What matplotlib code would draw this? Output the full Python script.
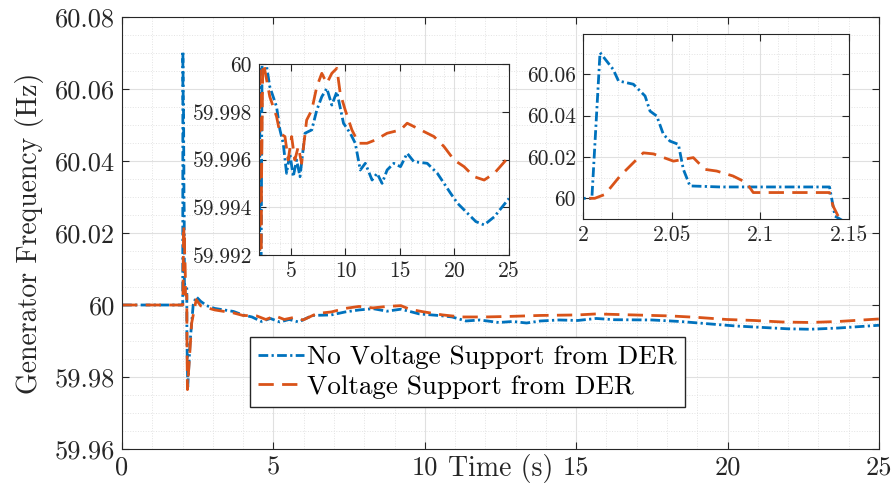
import numpy as np
import matplotlib
matplotlib.use('Agg')
import matplotlib.pyplot as plt
from matplotlib.ticker import MultipleLocator, FuncFormatter

t_no_vs = [0, 2.0, 2.005, 2.0096, 2.017, 2.020, 2.0284, 2.035, 2.0378, 2.0416, 2.0453, 2.049,
           2.0538, 2.0566, 2.0603, 2.0773, 2.139, 2.1421, 2.17, 2.25, 2.35, 2.45, 2.6, 2.8,
           3.06, 3.68, 3.99, 4.29, 4.6, 4.9, 5.21, 5.52, 5.83, 6.29, 6.91, 7.37, 7.83,
           8.29, 8.75, 9.21, 9.82, 10.44, 10.9, 11.36, 11.82, 12.44, 12.9, 13.36, 13.82,
           14.43, 15.05, 15.66, 16.27, 17.5, 18.43, 19.04, 19.65, 20.27, 21.19, 21.96,
           22.72, 23.65, 25.0]
f_no_vs = [60, 60, 60, 60.0705, 60.0624, 60.0568, 60.0552, 60.0495, 60.0422, 60.0398, 60.031,
           60.0277, 60.0261, 60.014, 60.006, 60.0055, 60.0055, 59.9914, 59.9772, 59.99, 60.0,
           60.0023, 60.001, 59.9998, 59.99905, 59.99821, 59.99724, 59.99668, 59.99542,
           59.99626, 59.99528, 59.99598, 59.99528, 59.9971, 59.99724, 59.99807, 59.99863,
           59.99898, 59.99828, 59.99884, 59.99752, 59.9971, 59.99668, 59.99556, 59.99584,
           59.99514, 59.99542, 59.995, 59.99556, 59.99584, 59.9957, 59.99626, 59.99591,
           59.99584, 59.99542, 59.995, 59.99458, 59.99417, 59.99375, 59.9934, 59.99326,
           59.9936, 59.99437]

t_vs = [0, 2.0, 2.0066, 2.0124, 2.0209, 2.0265, 2.034, 2.0397, 2.051, 2.0622, 2.0688, 2.0754,
        2.0846, 2.0921, 2.096, 2.139, 2.141, 2.1447, 2.16, 2.3, 2.45, 2.6, 3.06, 3.68,
        3.99, 4.45, 4.75, 5.06, 5.36, 5.67, 5.98, 6.44, 6.91, 7.37, 7.83, 8.29, 8.75,
        9.21, 9.52, 9.98, 10.59, 11.21, 11.98, 12.75, 13.82, 15.05, 15.66, 16.89, 18.12,
        19.04, 19.96, 20.88, 21.8, 22.72, 23.65, 25.0]
f_vs = [60, 60, 60, 60.0019, 60.0108, 60.0156, 60.022, 60.0215, 60.018, 60.0197, 60.014,
        60.0132, 60.0108, 60.0076, 60.0028, 60.0028, 59.9963, 59.99, 59.9765, 59.995,
        60.0015, 59.99975, 59.99863, 59.9978, 59.9971, 59.99696, 59.99598, 59.99696,
        59.99598, 59.99654, 59.99584, 59.99765, 59.99807, 59.99905, 59.99961, 59.99919,
        59.99961, 59.99982, 59.99877, 59.99807, 59.99724, 59.99668, 59.99668, 59.99682,
        59.9971, 59.99724, 59.99752, 59.99724, 59.99696, 59.99654, 59.99598, 59.9957,
        59.99528, 59.99514, 59.99542, 59.99612]

labels = ['No Voltage Support from DER', 'Voltage Support from DER']

plt.rcParams['font.family'] = 'serif'
plt.rcParams['font.serif'] = ['cmr10']
plt.rcParams['mathtext.fontset'] = 'cm'
plt.rcParams['axes.formatter.use_mathtext'] = True

BLUE = '#0072BD'
ORANGE = '#D95319'
AXC = '#262626'
fmt = FuncFormatter(lambda v, p: f'{v:g}')


def style_axes(ax, fs):
    ax.grid(True, which='major', color='#e0e0e0', lw=0.8)
    ax.grid(True, which='minor', color='#e3e3e3', lw=0.7, ls=':')
    ax.set_axisbelow(True)
    ax.tick_params(which='both', direction='in', top=True, right=True,
                   colors=AXC, labelsize=fs, length=5, width=0.8, pad=5)
    ax.tick_params(which='minor', length=0)
    for s in ax.spines.values():
        s.set_color(AXC)
        s.set_linewidth(0.8)
    ax.xaxis.set_major_formatter(fmt)
    ax.yaxis.set_major_formatter(fmt)


def draw(ax):
    ax.plot(t_no_vs, f_no_vs, color=BLUE, lw=2, ls=(0, (3.5, 1.2, 0.8, 1.2)))
    ax.plot(t_vs, f_vs, color=ORANGE, lw=2, ls=(0, (5.5, 3)))


fig = plt.figure(figsize=(8.94, 4.84), dpi=100)
ax = fig.add_axes([0.1365, 0.0723, 0.8467, 0.8926])
draw(ax)
ax.set_xlim(0, 25)
ax.set_ylim(59.96, 60.08)
ax.xaxis.set_major_locator(MultipleLocator(5))
ax.xaxis.set_minor_locator(MultipleLocator(1))
ax.yaxis.set_major_locator(MultipleLocator(0.02))
ax.yaxis.set_minor_locator(MultipleLocator(0.005))
style_axes(ax, 19)
ax.set_xlabel('Time (s)', fontsize=20, color=AXC)
ax.xaxis.set_label_coords(0.5, -0.012)
ax.set_ylabel('Generator Frequency (Hz)', fontsize=20, color=AXC, labelpad=8)
ax.legend(labels, loc='upper left', bbox_to_anchor=(0.169, 0.259), fontsize=19.5,
          handlelength=1.7, handletextpad=0.12, borderpad=0.3, labelspacing=0.2,
          borderaxespad=0, fancybox=False, edgecolor=AXC, framealpha=1)

# inset: long-term response
ax1 = fig.add_axes([259 / 894, 1 - 255 / 484, 250 / 894, 191 / 484])
draw(ax1)
ax1.set_xlim(2.07, 25)
ax1.set_ylim(59.992, 60)
ax1.xaxis.set_major_locator(MultipleLocator(5))
ax1.xaxis.set_minor_locator(MultipleLocator(1))
ax1.yaxis.set_major_locator(MultipleLocator(0.002))
ax1.yaxis.set_minor_locator(MultipleLocator(0.0005))
style_axes(ax1, 15.5)

# inset: first 150 ms
ax2 = fig.add_axes([583 / 894, 1 - 219 / 484, 266 / 894, 185 / 484])
draw(ax2)
ax2.set_xlim(2, 2.15)
ax2.set_ylim(59.99, 60.0795)
ax2.xaxis.set_major_locator(MultipleLocator(0.05))
ax2.xaxis.set_minor_locator(MultipleLocator(0.01))
ax2.yaxis.set_major_locator(MultipleLocator(0.02))
ax2.yaxis.set_minor_locator(MultipleLocator(0.01))
style_axes(ax2, 15.5)

fig.savefig('out.png', dpi=100)
